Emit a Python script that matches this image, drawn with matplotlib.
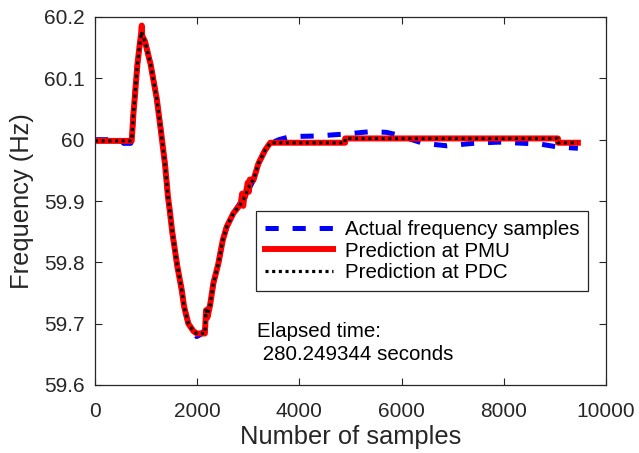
import matplotlib
matplotlib.use("Agg")
import matplotlib.pyplot as plt
from matplotlib.ticker import FuncFormatter

plt.rcParams['font.family'] = ['Liberation Sans', 'DejaVu Sans']
plt.rcParams['lines.scale_dashes'] = False

# ---- data ----
x_actual = [0, 500, 560, 700, 725, 750, 803, 829, 868, 914, 979, 1090, 1208, 1292,
            1371, 1430, 1455, 1514, 1612, 1697, 1743, 1827, 1925, 1990, 2060, 2150,
            2173, 2252, 2317, 2414, 2500, 2578, 2708, 2850, 2937, 3100, 3198, 3329,
            3427, 3600, 3818, 4340, 4862, 5385, 5700, 5907, 6200, 6428, 6886, 7400,
            7900, 8400, 8700, 9060, 9450]
y_actual = [60.0, 60.0, 59.994, 59.994, 60.0, 60.04, 60.095, 60.122, 60.15, 60.176,
            60.16, 60.122, 60.067, 60.013, 59.959, 59.905, 59.89, 59.848, 59.793,
            59.755, 59.728, 59.7, 59.688, 59.679, 59.682, 59.69, 59.718, 59.73,
            59.766, 59.798, 59.836, 59.858, 59.88, 59.898, 59.907, 59.934, 59.961,
            59.983, 59.994, 60.0, 60.005, 60.006, 60.009, 60.013, 60.012, 60.008,
            60.0, 59.994, 59.99, 59.994, 59.996, 59.994, 59.993, 59.988, 59.986]

x_pred = [0, 718, 750, 803, 829, 868, 905, 915, 922, 979, 1090, 1208, 1292, 1371,
          1430, 1455, 1514, 1612, 1697, 1743, 1827, 1925, 1990, 2150, 2173, 2200,
          2252, 2317, 2414, 2500, 2578, 2708, 2850, 2880, 2900, 2920, 2937, 2990,
          3010, 3030, 3100, 3198, 3329, 3430, 4895, 4895, 9060, 9060, 9450]
y_pmu = [59.998, 59.998, 60.04, 60.095, 60.122, 60.15, 60.175, 60.186, 60.17,
         60.16, 60.122, 60.067, 60.013, 59.959, 59.905, 59.89, 59.848, 59.793,
         59.755, 59.728, 59.7, 59.688, 59.684, 59.684, 59.722, 59.71, 59.73,
         59.766, 59.798, 59.836, 59.858, 59.88, 59.895, 59.912, 59.892, 59.905,
         59.907, 59.93, 59.915, 59.935, 59.934, 59.961, 59.983, 59.995, 59.995,
         60.002, 60.002, 59.995, 59.995]
y_pdc = [59.998, 59.998, 60.04, 60.095, 60.122, 60.15, 60.172, 60.176, 60.17,
         60.16, 60.122, 60.067, 60.013, 59.959, 59.905, 59.89, 59.848, 59.793,
         59.755, 59.728, 59.7, 59.688, 59.684, 59.684, 59.722, 59.715, 59.73,
         59.766, 59.798, 59.836, 59.858, 59.88, 59.895, 59.9, 59.902, 59.905,
         59.907, 59.92, 59.922, 59.93, 59.934, 59.961, 59.983, 59.995, 59.995,
         60.002, 60.002, 59.995, 59.995]

labels = ['Actual frequency samples', 'Prediction at PMU', 'Prediction at PDC']
x_ticks = [0, 2000, 4000, 6000, 8000, 10000]
y_ticks = [59.6, 59.7, 59.8, 59.9, 60.0, 60.1, 60.2]
annotation = 'Elapsed time:\n 280.249344 seconds'

# ---- figure ----
fig = plt.figure(figsize=(6.39, 4.53), dpi=100)
ax = fig.add_axes([95/639, 1-385/453, (606-95)/639, (385-17)/453])

axc = '#262626'
l1, = ax.plot(x_actual, y_actual, color='#0000ff', lw=3.6, dashes=(9.5, 10),
              label=labels[0])
l2, = ax.plot(x_pred, y_pmu, color='#ff0000', lw=4.3, label=labels[1])
l3, = ax.plot(x_pred, y_pdc, color='black', lw=2.3, dashes=(2.2, 2.6),
              label=labels[2])

ax.set_xlim(0, 10000)
ax.set_ylim(59.6, 60.2)
ax.set_xticks(x_ticks)
ax.set_yticks(y_ticks)
ax.yaxis.set_major_formatter(FuncFormatter(lambda v, p: ('%.1f' % v).rstrip('0').rstrip('.')))
ax.tick_params(direction='in', length=5, width=0.8, colors=axc, labelsize=15,
               top=True, right=True)
ax.tick_params(axis='x', pad=12)
ax.tick_params(axis='y', pad=7.5)
for s in ax.spines.values():
    s.set_color(axc)
    s.set_linewidth(0.9)

ax.set_xlabel('Number of samples', fontsize=18.4, color=axc, labelpad=3)
ax.set_ylabel('Frequency (Hz)', fontsize=18.4, color=axc, labelpad=7)

leg = ax.legend(handles=[l1, l2, l3], loc='upper left',
                bbox_to_anchor=(0.315, 0.473, 0.65, 0.0), mode='expand',
                fontsize=14.8, frameon=True, fancybox=False, framealpha=1,
                edgecolor=axc, borderpad=0.45, labelspacing=0.12,
                handlelength=3.3, handletextpad=0.6, borderaxespad=0.0)
leg.get_frame().set_linewidth(0.9)
for t in leg.get_texts():
    t.set_color('black')

ax.text(3172, 59.669, annotation, fontsize=14.8, color='black',
        va='center', ha='left', linespacing=1.25)
fig.savefig('out.png', dpi=100)
